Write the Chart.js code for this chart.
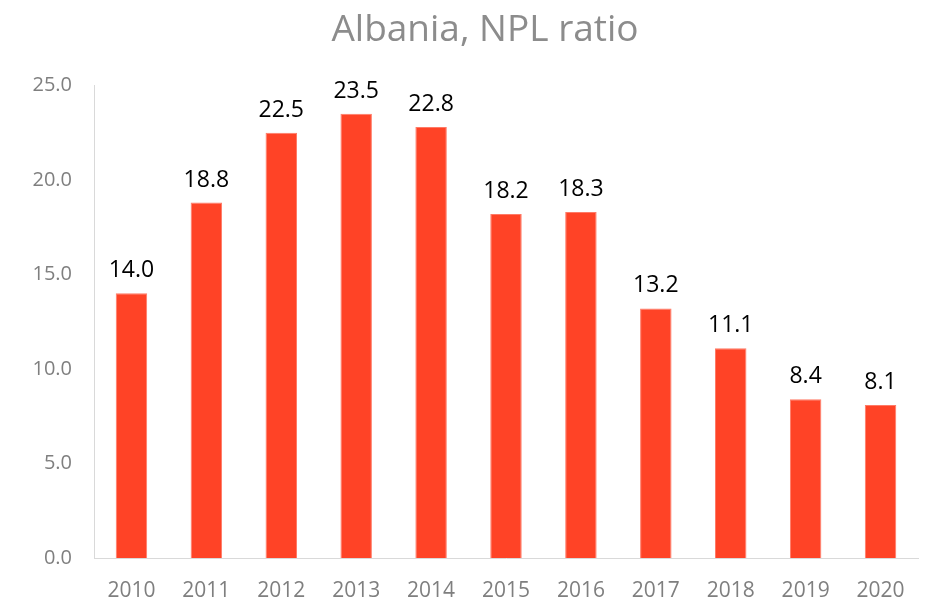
<!DOCTYPE html>
<html lang="en">
<head>
    <meta charset="UTF-8">
    <title>Albania, NPL ratio</title>
    <script src="https://cdn.jsdelivr.net/npm/chart.js@4.4.1/dist/chart.umd.min.js"></script>
    <style>
        html, body {
            margin: 0;
            padding: 0;
            background: #ffffff;
        }
        .wrap {
            width: 925px;
            height: 599px;
        }
    </style>
</head>
<body>
    <div class="wrap">
        <canvas id="nplChart" width="925" height="599"></canvas>
    </div>

    <script>
        // Data
        const years = ['2010', '2011', '2012', '2013', '2014', '2015', '2016', '2017', '2018', '2019', '2020'];
        const nplRatio = [14.0, 18.8, 22.5, 23.5, 22.8, 18.2, 18.3, 13.2, 11.1, 8.4, 8.1];
        const yMin = 0, yMax = 25, yStep = 5;

        const fontFamily = "'Open Sans', 'Noto Sans', sans-serif";

        // Draws the value above each bar
        const valueLabels = {
            id: 'valueLabels',
            afterDatasetsDraw(chart) {
                const ctx = chart.ctx;
                const meta = chart.getDatasetMeta(0);
                ctx.save();
                ctx.font = '23px ' + fontFamily;
                ctx.fillStyle = '#000000';
                ctx.textAlign = 'center';
                ctx.textBaseline = 'alphabetic';
                meta.data.forEach((bar, i) => {
                    ctx.fillText(nplRatio[i].toFixed(1), bar.x, bar.y - 16);
                });
                ctx.restore();
            }
        };

        // The title in the original sits a bit right of the canvas centre
        const shiftTitle = {
            id: 'shiftTitle',
            afterLayout(chart) {
                const t = chart.titleBlock;
                if (t) {
                    t.left = 52;
                    t.right = chart.width - 7;
                }
            }
        };

        new Chart(document.getElementById('nplChart'), {
            type: 'bar',
            data: {
                labels: years,
                datasets: [{
                    data: nplRatio,
                    backgroundColor: '#ff4326',
                    borderColor: '#ff7a66',
                    borderWidth: 1,
                    barPercentage: 0.42,
                    categoryPercentage: 1.0
                }]
            },
            options: {
                responsive: false,
                animation: false,
                layout: {
                    padding: { left: 0, right: 7, top: 0, bottom: 0 }
                },
                plugins: {
                    legend: { display: false },
                    tooltip: { enabled: false },
                    title: {
                        display: true,
                        text: 'Albania, NPL ratio',
                        color: '#8c8c8c',
                        font: { family: fontFamily, size: 37, weight: 'normal' },
                        padding: { top: 8, bottom: 33 }
                    }
                },
                scales: {
                    x: {
                        grid: { display: false },
                        border: { display: true, color: '#d9d9d9', width: 1 },
                        ticks: {
                            color: '#7f7f7f',
                            font: { family: fontFamily, size: 21 },
                            padding: 12,
                            maxRotation: 0
                        },
                        afterFit(scale) { scale.height = 41; }
                    },
                    y: {
                        min: yMin,
                        max: yMax,
                        grid: { display: false, drawTicks: false },
                        border: { display: true, color: '#d9d9d9', width: 1 },
                        ticks: {
                            stepSize: yStep,
                            color: '#7f7f7f',
                            font: { family: fontFamily, size: 20 },
                            padding: 22,
                            callback: (v) => Number(v).toFixed(1)
                        },
                        afterFit(scale) { scale.width = 94; }
                    }
                }
            },
            plugins: [valueLabels, shiftTitle]
        });
    </script>
</body>
</html>
